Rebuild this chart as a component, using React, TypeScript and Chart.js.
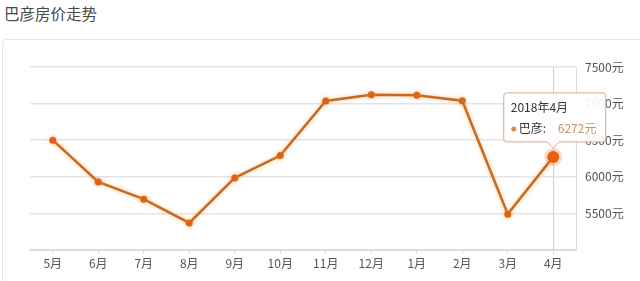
import React, { useEffect, useRef } from "react";
import { Chart, registerables } from "chart.js";

Chart.register(...registerables);

const titleText = "巴彦房价走势";
const seriesName = "巴彦";
const months = ["5月", "6月", "7月", "8月", "9月", "10月", "11月", "12月", "1月", "2月", "3月", "4月"];
const prices = [6500, 5930, 5695, 5370, 5985, 6290, 7035, 7120, 7115, 7040, 5490, 6272];
const activeIndex = 11;
const activeTitle = "2018年4月";
const unit = "元";
const yMin = 5000;
const yMax = 7500;
const yStep = 500;

const FONT = "'Noto Sans CJK SC', 'Noto Sans', sans-serif";
const LINE = "#c9691f";
const POINT = "#dd6316";

const effectsPlugin = {
  id: "effects",
  beforeDatasetDraw(chart: any) {
    const ctx = chart.ctx;
    ctx.save();
    ctx.shadowColor = "rgba(245,160,80,0.6)";
    ctx.shadowBlur = 4;
  },
  afterDatasetDraw(chart: any) {
    chart.ctx.restore();
  },
  beforeDatasetsDraw(chart: any) {
    const ctx = chart.ctx;
    const el = chart.getDatasetMeta(0).data[activeIndex];
    const { top, bottom } = chart.chartArea;
    ctx.save();
    ctx.strokeStyle = "#cfcfcf";
    ctx.lineWidth = 1;
    ctx.beginPath();
    ctx.moveTo(Math.round(el.x) + 0.5, top);
    ctx.lineTo(Math.round(el.x) + 0.5, bottom);
    ctx.stroke();
    ctx.restore();
  },
  afterDraw(chart: any) {
    const ctx = chart.ctx;
    const el = chart.getDatasetMeta(0).data[activeIndex];
    const px = el.x;
    const py = el.y;
    ctx.save();
    ctx.fillStyle = "rgba(245,140,60,0.3)";
    ctx.beginPath();
    ctx.arc(px, py, 9, 0, Math.PI * 2);
    ctx.fill();
    ctx.fillStyle = "#e85f0c";
    ctx.beginPath();
    ctx.arc(px, py, 6, 0, Math.PI * 2);
    ctx.fill();

    const w = 102;
    const h = 49;
    const bx = px - 49.5;
    const by = py - 15 - h;
    const cx = px;
    const caretH = 6;
    ctx.beginPath();
    ctx.moveTo(bx + 3, by);
    ctx.lineTo(bx + w - 3, by);
    ctx.quadraticCurveTo(bx + w, by, bx + w, by + 3);
    ctx.lineTo(bx + w, by + h - 3);
    ctx.quadraticCurveTo(bx + w, by + h, bx + w - 3, by + h);
    ctx.lineTo(cx + 6, by + h);
    ctx.lineTo(cx, by + h + caretH);
    ctx.lineTo(cx - 6, by + h);
    ctx.lineTo(bx + 3, by + h);
    ctx.quadraticCurveTo(bx, by + h, bx, by + h - 3);
    ctx.lineTo(bx, by + 3);
    ctx.quadraticCurveTo(bx, by, bx + 3, by);
    ctx.closePath();
    ctx.fillStyle = "rgba(255,255,255,0.92)";
    ctx.fill();
    ctx.strokeStyle = "#d9a884";
    ctx.lineWidth = 1;
    ctx.stroke();

    ctx.textBaseline = "middle";
    ctx.textAlign = "left";
    ctx.font = `12px ${FONT}`;
    ctx.fillStyle = "#333";
    ctx.fillText(activeTitle, bx + 7, by + 15);
    ctx.fillStyle = "#d98b4f";
    ctx.beginPath();
    ctx.arc(bx + 10, by + 36, 2.5, 0, Math.PI * 2);
    ctx.fill();
    ctx.fillStyle = "#333";
    ctx.fillText(seriesName + ":", bx + 15, by + 36);
    ctx.fillStyle = "#c99065";
    ctx.fillText(prices[activeIndex] + unit, bx + 54, by + 36);
    ctx.restore();
  },
};

export default function App() {
  const ref = useRef<HTMLCanvasElement | null>(null);
  useEffect(() => {
    if (!ref.current) return;
    const chart = new Chart(ref.current, {
      type: "line",
      data: {
        labels: months,
        datasets: [
          {
            label: seriesName,
            data: prices,
            borderColor: LINE,
            backgroundColor: POINT,
            borderWidth: 2.5,
            pointRadius: 3.5,
            pointBackgroundColor: POINT,
            pointBorderColor: POINT,
            pointBorderWidth: 0,
            tension: 0,
          },
        ],
      },
      options: {
        responsive: false,
        animation: false,
        layout: { padding: { left: 30, top: 67, right: 0, bottom: 0 } },
        plugins: {
          legend: { display: false },
          tooltip: { enabled: false },
          title: { display: false },
        },
        scales: {
          x: {
            offset: true,
            grid: {
              drawOnChartArea: false,
              offset: false,
              tickLength: 4,
              color: "#d8d8d8",
            },
            border: { color: "#dcdcdc", width: 2 },
            ticks: {
              color: "#555",
              font: { size: 12, family: FONT },
              padding: 2,
              maxRotation: 0,
              autoSkip: false,
            },
            afterFit(scale: any) {
              scale.height = 31;
            },
          },
          y: {
            position: "right",
            min: yMin,
            max: yMax,
            grid: {
              drawTicks: false,
              color: "#e4e4e4",
              lineWidth: 1.5,
            },
            border: { display: true, color: "#dadada", width: 1 },
            ticks: {
              stepSize: yStep,
              padding: 9,
              color: "#555",
              font: { size: 12, family: FONT },
              callback: (v: any) => (v === yMin ? "" : v + unit),
            },
            afterFit(scale: any) {
              scale.width = 64;
            },
          },
        },
      },
      plugins: [effectsPlugin],
    });
    return () => chart.destroy();
  }, []);

  return (
    <div
      style={{
        position: "fixed",
        left: 0,
        top: 0,
        width: 640,
        height: 281,
        background: "#fff",
        overflow: "hidden",
      }}
    >
      <div
        style={{
          position: "absolute",
          left: 4,
          top: 3,
          fontSize: 15.5,
          lineHeight: "20px",
          color: "#4a4a4a",
          fontFamily: FONT,
        }}
      >
        {titleText}
      </div>
      <div
        style={{
          position: "absolute",
          left: 2,
          top: 39,
          width: 680,
          height: 280,
          border: "1px solid #e6e6e6",
          borderRadius: 4,
          boxSizing: "border-box",
        }}
      />
      <canvas
        ref={ref}
        width={640}
        height={281}
        style={{ position: "absolute", left: 0, top: 0, width: 640, height: 281 }}
      />
    </div>
  );
}
